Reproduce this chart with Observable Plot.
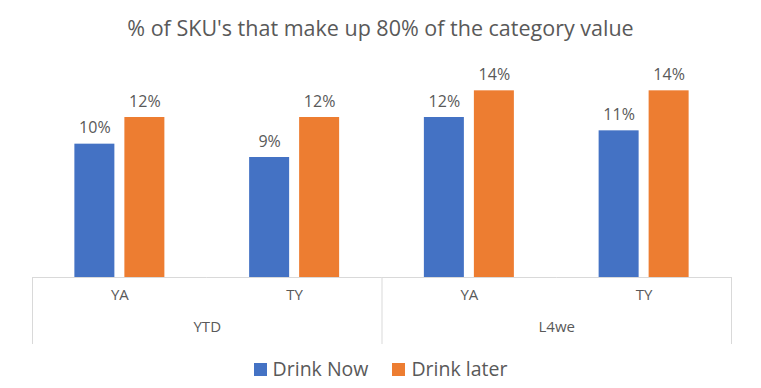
<!DOCTYPE html>
<html>
<head>
<meta charset="utf-8">
<script src="https://cdn.jsdelivr.net/npm/d3@7"></script>
<script src="https://cdn.jsdelivr.net/npm/@observablehq/plot@0.6"></script>
<style>
  body { margin: 0; background: #fff; font-family: "Open Sans", sans-serif; color: #595959; }
  #wrap { width: 761px; height: 388px; position: relative; overflow: hidden; }
  #title { position: absolute; top: 0; left: 0; width: 761px; height: 50px; line-height: 56px; text-align: center; font-size: 21.5px; color: #595959; white-space: nowrap; }
  #chart { position: absolute; top: 50px; left: 0; }
  #legend { position: absolute; top: 355px; left: 0; width: 761px; text-align: center; font-size: 19.5px; line-height: 28px; color: #595959; white-space: nowrap; }
  .sw { display: inline-block; width: 13px; height: 13px; margin-right: 6px; vertical-align: 0px; }
  .item { display: inline-block; margin: 0 12px; }
</style>
</head>
<body>
<div id="wrap">
  <div id="title">% of SKU's that make up 80% of the category value</div>
  <div id="chart"></div>
  <div id="legend"></div>
</div>
<script>
const title = "% of SKU's that make up 80% of the category value";
const periods = ["YTD", "YTD", "L4we", "L4we"];
const subgroups = ["YA", "TY", "YA", "TY"];
const series = ["Drink Now", "Drink later"];
const drinkNow = [10, 9, 12, 11];
const drinkLater = [12, 12, 14, 14];
const colors = ["#4472C4", "#ED7D31"];

const keys = periods.map((p, i) => p + "|" + subgroups[i]);
const data = [];
keys.forEach((k, i) => {
  data.push({key: k, series: series[0], value: drinkNow[i]});
  data.push({key: k, series: series[1], value: drinkLater[i]});
});
const keyRows = keys.map((k, i) => ({key: k, period: periods[i], sub: subgroups[i]}));
const periodRows = keyRows.filter((d, i) => i === 0 || periods[i] !== periods[i - 1]);
const lastKey = keys[keys.length - 1];

const grid = "#D9D9D9";
const chart = Plot.plot({
  width: 761,
  height: 300,
  marginTop: 10,
  marginBottom: 7,
  marginLeft: 32,
  marginRight: 30,
  style: {fontFamily: "Open Sans, sans-serif", color: "#595959", background: "transparent"},
  fx: {domain: keys, padding: 0, round: false, axis: null},
  x: {domain: series, paddingInner: 0.2, paddingOuter: 0.8475, round: false, axis: null},
  y: {domain: [0, 15], range: [227, 27], axis: null},
  color: {domain: series, range: colors},
  marks: [
    Plot.frame({anchor: "left", fx: () => keys[0], stroke: grid, insetTop: 217}),
    Plot.frame({anchor: "left", fx: () => periodRows[1].key, stroke: grid, insetTop: 217}),
    Plot.frame({anchor: "right", fx: () => lastKey, stroke: grid, insetTop: 217}),
    Plot.ruleY([0], {stroke: grid, strokeWidth: 1}),
    Plot.barY(data, {fx: "key", x: "series", y: "value", fill: "series"}),
    Plot.text(data, {fx: "key", x: "series", y: "value", text: d => d.value + "%", dy: -16, fontSize: 16, fill: "#595959"}),
    Plot.text(keyRows, {fx: "key", text: "sub", frameAnchor: "bottom", dy: -44, fontSize: 15, fill: "#595959"}),
    Plot.text(periodRows, {fx: "key", text: "period", frameAnchor: "bottom-right", textAnchor: "middle", dy: -12, fontSize: 15, fill: "#595959"})
  ]
});
document.getElementById("chart").appendChild(chart);
document.getElementById("title").textContent = title;

const legend = document.getElementById("legend");
series.forEach((s, i) => {
  const item = document.createElement("span");
  item.className = "item";
  const sw = document.createElement("span");
  sw.className = "sw";
  sw.style.background = colors[i];
  item.appendChild(sw);
  item.appendChild(document.createTextNode(s));
  legend.appendChild(item);
});
</script>
</body>
</html>
